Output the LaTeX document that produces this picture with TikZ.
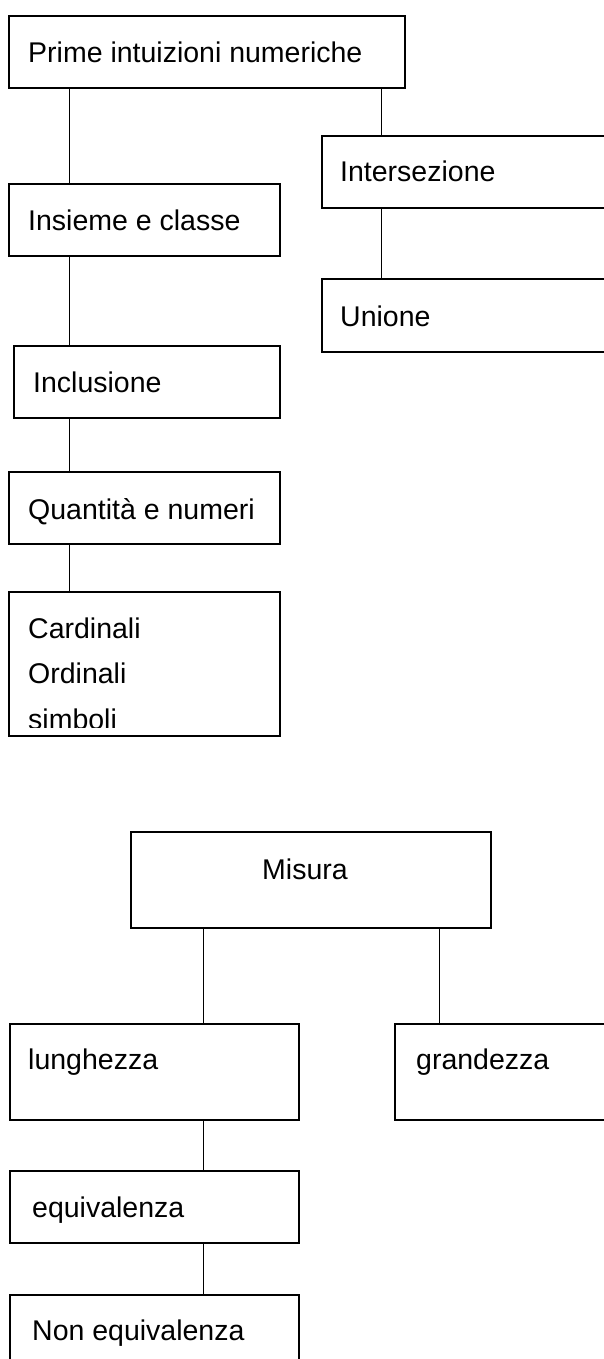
\documentclass[tikz,border=0pt]{standalone}
\usepackage{fontspec}
\setmainfont{Liberation Sans}
\begin{document}
\begin{tikzpicture}[x=1pt,y=-1pt,
  box/.style={draw=black, line width=1.2pt, rectangle, inner sep=0pt, outer sep=0pt, anchor=north west},
  lbl/.style={anchor=base west, inner sep=0pt, font=\fontsize{28.5}{34}\selectfont},
  link/.style={draw=black, line width=0.9pt}]
\useasboundingbox (0,0) rectangle (603,1359);
% boxes
\node[box, minimum width=396pt, minimum height=72pt] (prime) at (9,16) {};
\node[box, minimum width=298pt, minimum height=72pt] (inter) at (322,136) {};
\node[box, minimum width=271pt, minimum height=72pt] (ins) at (9,184) {};
\node[box, minimum width=298pt, minimum height=73pt] (unione) at (322,279) {};
\node[box, minimum width=266pt, minimum height=72pt] (incl) at (14,346) {};
\node[box, minimum width=271pt, minimum height=72pt] (quant) at (9,472) {};
\node[box, minimum width=271pt, minimum height=144pt] (card) at (9,592) {};
\node[box, minimum width=360pt, minimum height=96pt] (misura) at (131,832) {};
\node[box, minimum width=289pt, minimum height=96pt] (lung) at (10,1024) {};
\node[box, minimum width=240pt, minimum height=96pt] (grand) at (395,1024) {};
\node[box, minimum width=289pt, minimum height=72pt] (equiv) at (10,1171) {};
\node[box, minimum width=289pt, minimum height=90pt] (non) at (10,1295) {};
% labels
\node[lbl] (tprime) at (28,63) {Prime intuizioni numeriche};
\node[lbl] (tinter) at (340,182) {Intersezione};
\node[lbl] (tins) at (28,230) {Insieme e classe};
\node[lbl] (tunione) at (340,326) {Unione};
\node[lbl] (tincl) at (33,392) {Inclusione};
\node[lbl] (tquant) at (28,519) {Quantità e numeri};
\begin{scope}
\clip (9,592) rectangle (280,727);
\node[lbl] (tcard1) at (28,638) {Cardinali};
\node[lbl] (tcard2) at (28,683) {Ordinali};
\node[lbl] (tcard3) at (28,729) {simboli};
\end{scope}
\node[lbl] (tmisura) at (262,879) {Misura};
\node[lbl] (tlung) at (28,1069) {lunghezza};
\node[lbl] (tgrand) at (416,1069) {grandezza};
\node[lbl] (tequiv) at (32,1217) {equivalenza};
\node[lbl] (tnon) at (32,1340) {Non equivalenza};
% connectors
\draw[link] ([xshift=60pt]prime.south west) -- ([xshift=60pt]ins.north west);
\draw[link] ([xshift=372pt]prime.south west) -- ([xshift=59pt]inter.north west);
\draw[link] ([xshift=59pt]inter.south west) -- ([xshift=59pt]unione.north west);
\draw[link] ([xshift=60pt]ins.south west) -- ([xshift=55pt]incl.north west);
\draw[link] ([xshift=55pt]incl.south west) -- ([xshift=60pt]quant.north west);
\draw[link] ([xshift=60pt]quant.south west) -- ([xshift=60pt]card.north west);
\draw[link] ([xshift=72pt]misura.south west) -- ([xshift=193pt]lung.north west);
\draw[link] ([xshift=308pt]misura.south west) -- ([xshift=44pt]grand.north west);
\draw[link] ([xshift=193pt]lung.south west) -- ([xshift=193pt]equiv.north west);
\draw[link] ([xshift=193pt]equiv.south west) -- ([xshift=193pt]non.north west);
\end{tikzpicture}
\end{document}
